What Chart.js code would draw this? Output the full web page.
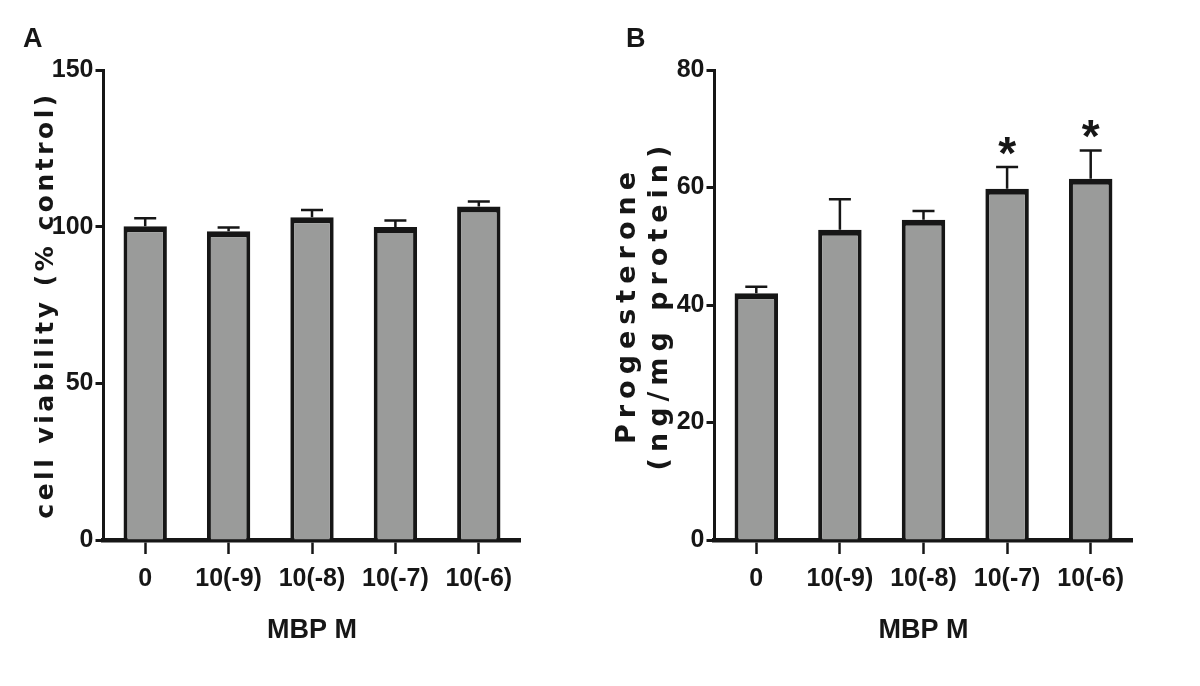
<!DOCTYPE html>
<html>
<head>
<meta charset="utf-8">
<title>MBP: cell viability and progesterone</title>
<script src="https://cdn.jsdelivr.net/npm/chart.js@4.4.1/dist/chart.umd.min.js"></script>
<style>
  html, body { margin: 0; padding: 0; background: #fff; }
  #wrap { position: relative; width: 1200px; height: 686px; }
  #chartA { position: absolute; left: 0; top: 0; }
  #chartB { position: absolute; left: 600px; top: 0; }
</style>
</head>
<body>
<div id="wrap">
  <canvas id="chartA" width="600" height="686"></canvas>
  <canvas id="chartB" width="600" height="686"></canvas>
</div>
<script>
"use strict";

// MBP concentration (M)
const doseLabels = ['0', '10(-9)', '10(-8)', '10(-7)', '10(-6)'];

// panel A: cell viability, % of control (mean and SEM)
const viability = [100.1, 98.5, 103.0, 99.9, 106.4];
const viabilitySem = [2.6, 1.2, 2.3, 2.1, 1.6];

// panel B: progesterone, ng/mg protein (mean and SEM)
const progesterone = [42.0, 52.8, 54.5, 59.8, 61.5];
const progesteroneSem = [1.1, 5.2, 1.5, 3.7, 4.8];
const progesteroneStars = ['', '', '', '*', '*'];

const ink = '#161616';
const barGrey = '#9a9b9a';
const narrow = "'Liberation Sans Narrow', 'Arial Narrow', 'Liberation Sans', sans-serif";
const wide = "'DejaVu Sans', Verdana, sans-serif";

// rotated y titles are drawn with extra letter spacing
const spacedTitle = {
  id: 'spacedTitle',
  beforeDraw(chart, args, opts) {
    const s = chart.scales.y;
    if (s && !s._spaced) {
      const orig = s.drawTitle.bind(s);
      s.drawTitle = function () {
        chart.ctx.save();
        chart.ctx.letterSpacing = opts.spacing + 'px';
        orig();
        chart.ctx.restore();
      };
      s._spaced = true;
    }
  }
};

// SEM whiskers (upper only) and significance stars
const errorBars = {
  id: 'errorBars',
  afterDatasetsDraw(chart, args, opts) {
    const ctx = chart.ctx;
    const y = chart.scales.y;
    const meta = chart.getDatasetMeta(0);
    const values = chart.data.datasets[0].data;
    ctx.save();
    ctx.strokeStyle = ink;
    ctx.fillStyle = ink;
    ctx.lineWidth = 2.5;
    meta.data.forEach((bar, i) => {
      const top = y.getPixelForValue(values[i] + opts.sem[i]);
      ctx.beginPath();
      ctx.moveTo(bar.x, bar.y);
      ctx.lineTo(bar.x, top);
      ctx.moveTo(bar.x - opts.cap / 2, top);
      ctx.lineTo(bar.x + opts.cap / 2, top);
      ctx.stroke();
      if (opts.stars && opts.stars[i]) {
        ctx.font = 'bold 46px ' + narrow;
        ctx.textAlign = 'center';
        ctx.textBaseline = 'alphabetic';
        ctx.fillText(opts.stars[i], bar.x, top + 2);
      }
    });
    ctx.restore();
  }
};

// panel letter in the top-left corner
const panelLabel = {
  id: 'panelLabel',
  afterDraw(chart, args, opts) {
    const ctx = chart.ctx;
    ctx.save();
    ctx.fillStyle = ink;
    ctx.font = 'bold 27px "Liberation Sans", Arial, sans-serif';
    ctx.textAlign = 'left';
    ctx.textBaseline = 'alphabetic';
    ctx.fillText(opts.text, opts.x, opts.y);
    ctx.restore();
  }
};

function makeChart(canvas, cfg) {
  return new Chart(canvas, {
    type: 'bar',
    plugins: [spacedTitle, errorBars, panelLabel],
    data: {
      labels: doseLabels,
      datasets: [{
        data: cfg.values,
        backgroundColor: barGrey,
        borderColor: ink,
        borderWidth: { top: 6, left: 4, right: 4, bottom: 0 },
        borderSkipped: 'start',
        barPercentage: 0.52,
        categoryPercentage: 1
      }]
    },
    options: {
      responsive: false,
      animation: false,
      devicePixelRatio: 1,
      layout: { padding: { top: 70, left: 0, right: cfg.right, bottom: 0 } },
      plugins: {
        legend: { display: false },
        tooltip: { enabled: false },
        spacedTitle: { spacing: cfg.spacing },
        errorBars: { sem: cfg.sem, stars: cfg.stars, cap: 22 },
        panelLabel: { text: cfg.letter, x: cfg.letterX, y: 47 }
      },
      scales: {
        x: {
          grid: { offset: false, drawOnChartArea: false, tickLength: 14, tickWidth: 2.5, tickColor: ink },
          border: { color: ink, width: 4.5 },
          ticks: { color: ink, padding: 10, font: { family: narrow, weight: 'bold', size: 25 } },
          title: {
            display: true, text: 'MBP M', color: ink,
            font: { family: narrow, weight: 'bold', size: 27 },
            padding: { top: 0, bottom: 39 }
          },
          afterFit(scale) { scale.height = 146; }
        },
        y: {
          min: 0,
          max: cfg.max,
          grid: { drawOnChartArea: false, tickLength: 8, tickWidth: 3, tickColor: ink },
          border: { color: ink, width: 3 },
          ticks: { stepSize: cfg.step, color: ink, padding: 2, font: { family: narrow, weight: 'bold', size: 25 } },
          title: {
            display: true, text: cfg.title, color: ink,
            font: { family: wide, weight: 'bold', size: cfg.titleSize },
            padding: { top: cfg.titlePad, bottom: 0 }
          },
          afterFit(scale) { scale.width = cfg.axisLeft; }
        }
      }
    }
  });
}

makeChart(document.getElementById('chartA'), {
  values: viability,
  sem: viabilitySem,
  stars: null,
  max: 150,
  step: 50,
  title: 'cell viability (% control)',
  titleSize: 25,
  titlePad: 31,
  spacing: 3.5,
  axisLeft: 103.5,
  right: 79.5,
  letter: 'A',
  letterX: 23
});

makeChart(document.getElementById('chartB'), {
  values: progesterone,
  sem: progesteroneSem,
  stars: progesteroneStars,
  max: 80,
  step: 20,
  title: ['Progesterone', '(ng/mg protein)'],
  titleSize: 27,
  titlePad: 11.5,
  spacing: 6,
  axisLeft: 114.5,
  right: 67.5,
  letter: 'B',
  letterX: 26
});
</script>
</body>
</html>
